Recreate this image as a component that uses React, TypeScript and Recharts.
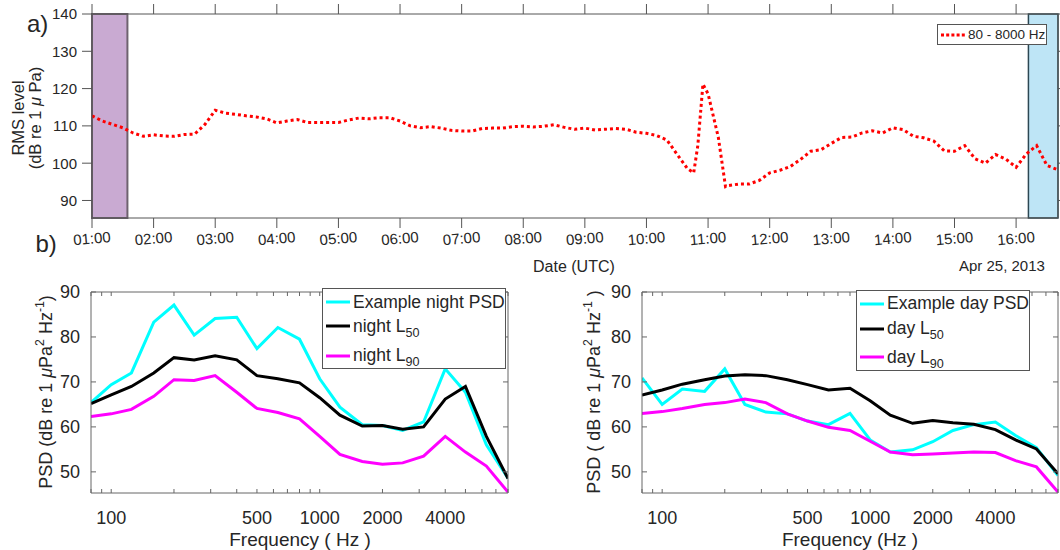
import React from "react";
import { LineChart, Line, XAxis, YAxis, ReferenceArea } from "recharts";

const FONT = '"Liberation Sans", Arial, Helvetica, sans-serif';
const INK = "#262626";

// a) broadband RMS level, 80 - 8000 Hz, read every ~10 min
const rmsTimes = [
  "01:00", "01:10", "01:20", "01:30", "01:40", "01:50",
  "02:00", "02:10", "02:20", "02:30", "02:40", "02:50",
  "03:00", "03:10", "03:20", "03:30", "03:40", "03:50",
  "04:00", "04:10", "04:20", "04:30", "04:40", "04:50",
  "05:00", "05:10", "05:20", "05:30", "05:40", "05:50",
  "06:00", "06:10", "06:20", "06:30", "06:40", "06:50",
  "07:00", "07:10", "07:20", "07:30", "07:40", "07:50",
  "08:00", "08:10", "08:20", "08:30", "08:40", "08:50",
  "09:00", "09:10", "09:20", "09:30", "09:40", "09:50",
  "10:00", "10:10", "10:20", "10:30", "10:40", "10:46", "10:50", "10:55",
  "11:00", "11:10", "11:17", "11:20", "11:30", "11:40", "11:50",
  "12:00", "12:10", "12:20", "12:30", "12:40", "12:50",
  "13:00", "13:10", "13:20", "13:30", "13:40", "13:50",
  "14:00", "14:10", "14:20", "14:30", "14:40", "14:50",
  "15:00", "15:10", "15:20", "15:30", "15:40", "15:50",
  "16:00", "16:10", "16:20", "16:30", "16:40",
];
const rmsLevels = [
  112.7, 111.3, 110.4, 109.5, 108.1, 107.2,
  107.6, 107.3, 107.2, 107.7, 107.8, 110.4,
  114.2, 113.4, 113.1, 112.7, 112.4, 111.9,
  110.8, 111.3, 111.7, 110.9, 110.9, 110.9,
  110.9, 111.6, 112.1, 111.9, 112.2, 112.2,
  111.3, 110.0, 109.5, 109.8, 109.4, 108.8,
  108.6, 108.6, 109.3, 109.4, 109.4, 109.8,
  109.9, 109.7, 109.9, 110.3, 109.6, 109.1,
  109.4, 108.9, 109.1, 109.3, 109.1, 108.3,
  108.0, 107.4, 106.2, 102.3, 98.5, 97.4, 104.7, 121.2,
  118.6, 106.9, 93.7, 94.0, 94.4, 94.4, 95.4,
  97.4, 98.1, 99.1, 101.0, 103.2, 103.6,
  105.3, 106.9, 107.0, 108.1, 108.7, 108.1,
  109.5, 109.0, 107.2, 106.8, 105.9, 103.3,
  103.2, 104.7, 101.2, 100.0, 102.3, 101.1,
  98.9, 102.5, 104.7, 99.4, 98.3,
];
const hourTicks = [
  "01:00", "02:00", "03:00", "04:00", "05:00", "06:00", "07:00", "08:00",
  "09:00", "10:00", "11:00", "12:00", "13:00", "14:00", "15:00", "16:00",
];
const rmsTicks = [90, 100, 110, 120, 130, 140];

// b) third-octave PSD levels
const freqs = [80, 100, 125, 160, 200, 250, 315, 400, 500, 630, 800, 1000, 1250, 1600, 2000, 2500, 3150, 4000, 5000, 6300, 8000];
const nightExample = [65.4, 69.4, 72.0, 83.3, 87.1, 80.4, 84.1, 84.4, 77.4, 82.1, 79.5, 70.7, 64.4, 60.5, 60.3, 59.2, 61.1, 72.9, 67.7, 56.0, 48.6];
const nightL50 = [65.2, 67.1, 69.0, 72.0, 75.4, 74.9, 75.8, 74.9, 71.4, 70.7, 69.8, 66.5, 62.6, 60.2, 60.3, 59.5, 60.0, 66.2, 69.0, 57.9, 48.5];
const nightL90 = [62.3, 62.9, 63.9, 66.8, 70.5, 70.3, 71.4, 67.7, 64.1, 63.2, 61.8, 57.9, 53.9, 52.3, 51.7, 52.0, 53.5, 57.9, 54.4, 51.3, 45.5];
const dayExample = [70.9, 65.0, 68.4, 67.9, 72.9, 65.0, 63.3, 62.9, 61.3, 60.5, 63.0, 57.1, 54.4, 54.9, 56.7, 59.2, 60.5, 61.1, 58.1, 55.4, 49.2];
const dayL50 = [67.1, 68.2, 69.5, 70.5, 71.3, 71.6, 71.4, 70.5, 69.4, 68.2, 68.6, 65.8, 62.6, 60.8, 61.4, 60.9, 60.6, 59.4, 57.1, 55.1, 49.6];
const dayL90 = [63.0, 63.4, 64.1, 65.0, 65.4, 66.2, 65.4, 62.9, 61.3, 59.9, 59.2, 56.8, 54.4, 53.8, 54.0, 54.2, 54.4, 54.3, 52.5, 51.1, 45.5];
const freqLabels = [100, 500, 1000, 2000, 4000];
const freqMinor = [80, 90, 100, 200, 300, 400, 500, 600, 700, 800, 900, 1000, 2000, 3000, 4000, 5000, 6000, 7000, 8000];
const psdTicks = [50, 60, 70, 80, 90];

const toHours = (s: string) => {
  const [h, m] = s.split(":").map(Number);
  return h + m / 60;
};

// keeps the tick line, draws no label (mirrored box axes)
const NoLabel = () => <g />;

const TimeTick = (props: any) => {
  const { x, y, payload } = props;
  const label = hourTicks.find((s) => Math.abs(toHours(s) - payload.value) < 1e-6) || "";
  return (
    <text x={x} y={y} dy="0.71em" textAnchor="middle" fill={INK} fontSize={15} fontFamily={FONT}
      transform={`rotate(-5 ${x} ${y + 6})`}>
      {label}
    </text>
  );
};

const FreqTick = (props: any) => {
  const { x, y, payload } = props;
  if (!freqLabels.includes(payload.value)) return <g />;
  return (
    <text x={x} y={y} dy="0.71em" textAnchor="middle" fill={INK} fontSize={18} fontFamily={FONT}>
      {payload.value}
    </text>
  );
};

const Sup = ({ children }: any) => (
  <sup style={{ fontSize: "0.68em", verticalAlign: "0.65em", lineHeight: 0 }}>{children}</sup>
);
const Sub = ({ children }: any) => (
  <sub style={{ fontSize: "0.72em", verticalAlign: "-0.4em", lineHeight: 0 }}>{children}</sub>
);

const VLabel = ({ cx, cy, size, children }: any) => (
  <div style={{
    position: "absolute", left: cx, top: cy, transform: "translate(-50%, -50%) rotate(-90deg)",
    whiteSpace: "nowrap", fontSize: size, lineHeight: 1.05, textAlign: "center", color: INK,
  }}>
    {children}
  </div>
);

const Txt = ({ left, top, size, children, center }: any) => (
  <div style={{
    position: "absolute", left, top, fontSize: size, lineHeight: 1, whiteSpace: "nowrap", color: INK,
    transform: center ? "translateX(-50%)" : undefined,
  }}>
    {children}
  </div>
);

function RmsPanel() {
  const rows = rmsTimes.map((s, i) => ({ t: toHours(s), v: rmsLevels[i] }));
  const ticks = hourTicks.map(toHours);
  const dom: [number, number] = [1, 16.68];
  const yDom: [number, number] = [85.3, 140];
  return (
    <div style={{ position: "absolute", left: 0, top: 0 }}>
      <LineChart width={1060} height={260} data={rows} margin={{ top: 13, right: 1, left: 32, bottom: 12 }}>
        <ReferenceArea x1={1} x2={1.575} y1={yDom[0]} y2={yDom[1]} fill="#c9aad2" fillOpacity={1}
          stroke="#6e626f" strokeWidth={2} />
        <XAxis dataKey="t" type="number" domain={dom} allowDataOverflow ticks={ticks} interval={0}
          height={30} tickSize={10} tickMargin={5} stroke="#555" tick={<TimeTick />} />
        <XAxis xAxisId="top" dataKey="t" type="number" orientation="top" domain={dom} allowDataOverflow
          ticks={ticks} interval={0} height={1} tickSize={10} tick={<NoLabel />} stroke="#555" />
        <YAxis type="number" domain={yDom} allowDataOverflow ticks={rmsTicks} interval={0} width={60}
          tickSize={10} tickMargin={5} stroke="#555" tick={{ fill: INK, fontSize: 15, fontFamily: FONT }} />
        <YAxis yAxisId="right" orientation="right" type="number" domain={yDom} allowDataOverflow
          ticks={rmsTicks} interval={0} width={1} tickSize={8} tick={<NoLabel />} stroke="#555" />
        <Line dataKey="v" type="linear" stroke="#ff0000" strokeWidth={3} strokeDasharray="3 3"
          dot={false} isAnimationActive={false} />
        <ReferenceArea x1={16.2} x2={16.68} y1={yDom[0]} y2={yDom[1]} fill="#b3e0f4" fillOpacity={0.85}
          stroke="#2c4753" strokeWidth={1.5} />
      </LineChart>
    </div>
  );
}

function PsdPanel({ left, marginLeft, marginRight, ex, l50, l90 }: any) {
  const rows = freqs.map((f, i) => ({ f, ex: ex[i], l50: l50[i], l90: l90[i] }));
  const dom: [number, number] = [80, 8000];
  const yDom: [number, number] = [45.3, 90];
  return (
    <div style={{ position: "absolute", left, top: 270 }}>
      <LineChart width={530} height={280} data={rows}
        margin={{ top: 21, right: marginRight, left: marginLeft, bottom: 27 }}>
        <XAxis dataKey="f" type="number" scale="log" domain={dom} allowDataOverflow ticks={freqMinor}
          interval={0} height={30} tickSize={-4} tickMargin={22} stroke="#666" tick={<FreqTick />} />
        <XAxis xAxisId="top" dataKey="f" type="number" scale="log" orientation="top" domain={dom}
          allowDataOverflow ticks={freqMinor} interval={0} height={1} tickSize={-4} tick={<NoLabel />} stroke="#666" />
        <YAxis type="number" domain={yDom} allowDataOverflow ticks={psdTicks} interval={0} width={60}
          tickSize={-5} tickMargin={16} stroke="#666" tick={{ fill: INK, fontSize: 18, fontFamily: FONT }} />
        <YAxis yAxisId="right" orientation="right" type="number" domain={yDom} allowDataOverflow
          ticks={psdTicks} interval={0} width={1} tickSize={-5} tick={<NoLabel />} stroke="#666" />
        <Line dataKey="ex" type="linear" stroke="#00ffff" strokeWidth={3} dot={false} isAnimationActive={false} />
        <Line dataKey="l50" type="linear" stroke="#000000" strokeWidth={3} dot={false} isAnimationActive={false} />
        <Line dataKey="l90" type="linear" stroke="#ff00ff" strokeWidth={3} dot={false} isAnimationActive={false} />
      </LineChart>
    </div>
  );
}

function PsdLegend({ left, top, width, centers, items }: any) {
  return (
    <div style={{
      position: "absolute", left, top, width, height: 81, border: "1px solid #555",
      background: "#fff", boxSizing: "border-box",
    }}>
      {items.map((it: any, i: number) => (
        <div key={i} style={{
          position: "absolute", left: 3, top: centers[i] - 13, height: 26, display: "flex",
          alignItems: "center", fontSize: 17.5, whiteSpace: "nowrap", color: INK,
        }}>
          <svg width={24} height={6} style={{ marginRight: 3 }}>
            <line x1={0} y1={3} x2={24} y2={3} stroke={it.color} strokeWidth={3} />
          </svg>
          <span>{it.label}</span>
        </div>
      ))}
    </div>
  );
}

export default function App() {
  return (
    <div style={{
      position: "absolute", left: 0, top: 0, width: 1060, height: 550, background: "#fff",
      fontFamily: FONT, color: INK, overflow: "hidden",
    }}>
      <RmsPanel />
      <PsdPanel left={0} marginLeft={31} marginRight={21} ex={nightExample} l50={nightL50} l90={nightL90} />
      <PsdPanel left={530} marginLeft={52} marginRight={1} ex={dayExample} l50={dayL50} l90={dayL90} />

      {/* top legend */}
      <div style={{
        position: "absolute", left: 937, top: 24, width: 110, height: 21, border: "1px solid #555",
        background: "#fff", boxSizing: "border-box", display: "flex", alignItems: "center",
        fontSize: 13.5, whiteSpace: "nowrap",
      }}>
        <svg width={24} height={6} style={{ marginLeft: 3, marginRight: 3 }}>
          <line x1={0} y1={3} x2={24} y2={3} stroke="#ff0000" strokeWidth={3} strokeDasharray="3 2.2" />
        </svg>
        <span>80 - 8000 Hz</span>
      </div>

      <PsdLegend left={322} top={288} width={184} centers={[13, 37, 66.5]} items={[
        { color: "#00ffff", label: "Example night PSD" },
        { color: "#000000", label: <>night L<Sub>50</Sub></> },
        { color: "#ff00ff", label: <>night L<Sub>90</Sub></> },
      ]} />
      <PsdLegend left={856} top={290} width={174} centers={[12.5, 37.5, 66]} items={[
        { color: "#00ffff", label: "Example day PSD" },
        { color: "#000000", label: <>day L<Sub>50</Sub></> },
        { color: "#ff00ff", label: <>day L<Sub>90</Sub></> },
      ]} />

      <VLabel cx={26.5} cy={118} size={16.5}>
        RMS level<br />(dB re 1 <i>μ</i> Pa)
      </VLabel>
      <VLabel cx={45.5} cy={392} size={18}>
        PSD (dB re 1 <i>μ</i>Pa<Sup>2</Sup> Hz<Sup>-1</Sup>)
      </VLabel>
      <VLabel cx={594} cy={392} size={18}>
        PSD ( dB re 1 <i>μ</i>Pa<Sup>2</Sup> Hz<Sup>-1</Sup> )
      </VLabel>

      <Txt left={27} top={11.5} size={24}>a)</Txt>
      <Txt left={35.5} top={232} size={24}>b)</Txt>
      <Txt left={533} top={259} size={16}>Date (UTC)</Txt>
      <Txt left={959} top={258} size={15}>Apr 25, 2013</Txt>
      <Txt left={300} top={530} size={19} center>Frequency ( Hz )</Txt>
      <Txt left={850} top={530} size={19} center>Frequency (Hz )</Txt>
    </div>
  );
}
